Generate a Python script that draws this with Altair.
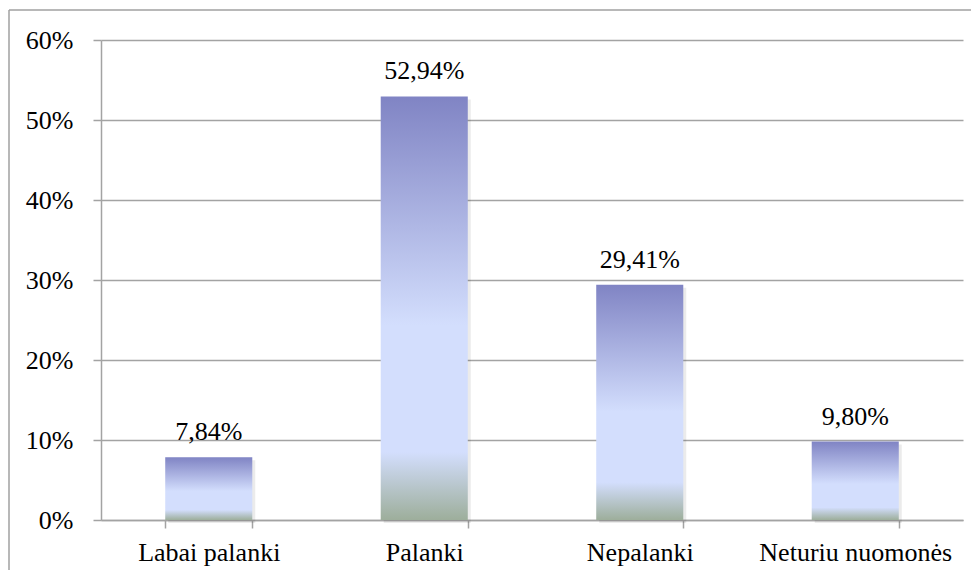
import altair as alt
import pandas as pd

categories = ["Labai palanki", "Palanki", "Nepalanki", "Neturiu nuomonės"]
values = [0.0784, 0.5294, 0.2941, 0.0980]
labels = ["7,84%", "52,94%", "29,41%", "9,80%"]
y_ticks = [0, 0.1, 0.2, 0.3, 0.4, 0.5, 0.6]

df = pd.DataFrame({"cat": categories, "val": values, "label": labels})

FONT = "Times New Roman"
GRID = "#a3a3a3"

grad = alt.Gradient(
    gradient="linear",
    stops=[
        alt.GradientStop(color="#8084c4", offset=0),
        alt.GradientStop(color="#d3defd", offset=0.54),
        alt.GradientStop(color="#d3defd", offset=0.84),
        alt.GradientStop(color="#9dae9b", offset=1),
    ],
    x1=0, x2=0, y1=0, y2=1,
)

x = alt.X(
    "cat:N", sort=None, title=None,
    scale=alt.Scale(paddingInner=0.596, paddingOuter=0.298),
    axis=alt.Axis(labelAngle=0, tickBand="extent", tickSize=8, labelPadding=11,
                  labelFontSize=26, labelFont=FONT, labelColor="black", labelLimit=400,
                  domainColor=GRID, tickColor=GRID, domainWidth=1.5, tickWidth=1.5,
                  grid=False),
)
y = alt.Y(
    "val:Q", title=None,
    scale=alt.Scale(domain=[0, 0.6], nice=False),
    axis=alt.Axis(values=y_ticks, format=".0%", tickSize=8, labelPadding=20,
                  labelFontSize=26, labelFont=FONT, labelColor="black",
                  domainColor=GRID, tickColor=GRID, gridColor=GRID,
                  domainWidth=1.5, tickWidth=1.5, gridWidth=1.5),
)

base = alt.Chart(df)

shadow = base.mark_bar(color="#000000", opacity=0.08, xOffset=3, yOffset=3).encode(x=x, y=y)
bars = base.mark_bar(color=grad).encode(x=x, y=y)
text = base.mark_text(dy=-17, baseline="alphabetic", fontSize=26, font=FONT, color="black").encode(
    x=x, y=y, text="label:N"
)

border_top = alt.Chart(pd.DataFrame({"a": [0]})).mark_rule(color="#a0a0a0", strokeWidth=1.5).encode(
    x=alt.value(-92), x2=alt.value(1000), y=alt.value(-30)
)
border_left = alt.Chart(pd.DataFrame({"a": [0]})).mark_rule(color="#a0a0a0", strokeWidth=1.5).encode(
    x=alt.value(-92), y=alt.value(-30), y2=alt.value(700)
)

chart = (
    alt.layer(shadow, bars, text, border_top, border_left)
    .properties(width=862, height=480, autosize=alt.AutoSizeParams(type="none"),
                padding={"left": 93, "top": 32, "right": 8, "bottom": 50})
    .configure(font=FONT)
    .configure_view(stroke=None)
)

chart.save("out.html", embed_options={"renderer": "svg", "actions": False})
